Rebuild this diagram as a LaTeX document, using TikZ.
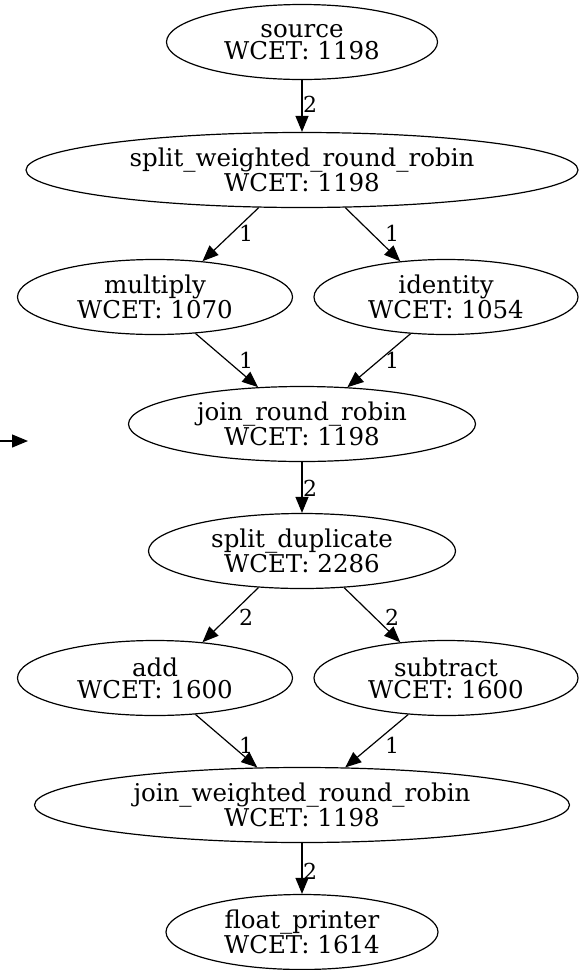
\documentclass[tikz,border=0pt]{standalone}
\usepackage{fontspec}
\setmainfont{DejaVu Serif}
\usetikzlibrary{arrows.meta,shapes.geometric}
\begin{document}
\begin{tikzpicture}[x=1pt,y=-1pt,
  task/.style={draw, ellipse, line width=1.2pt, inner sep=0pt, align=center,
    font=\fontsize{24.5}{22}\selectfont},
  flow/.style={-{Triangle[length=16pt,width=13pt]}, line width=1.2pt},
  lab/.style={font=\fontsize{22}{22}\selectfont, inner sep=0pt, anchor=center}
]
\useasboundingbox (0,0) rectangle (579,970);
\node[task, minimum width=271pt, minimum height=75pt] (src) at (302,42) {source\\WCET: 1198};
\node[task, minimum width=552pt, minimum height=75pt] (swrr) at (302,170) {split\_weighted\_round\_robin\\WCET: 1198};
\node[task, minimum width=275pt, minimum height=75pt] (mul) at (155,297) {multiply\\WCET: 1070};
\node[task, minimum width=264pt, minimum height=75pt] (idt) at (446,297) {identity\\WCET: 1054};
\node[task, minimum width=347pt, minimum height=75pt] (jrr) at (302,424) {join\_round\_robin\\WCET: 1198};
\node[task, minimum width=307pt, minimum height=75pt] (sd) at (302,551) {split\_duplicate\\WCET: 2286};
\node[task, minimum width=275pt, minimum height=75pt] (add) at (155,678) {add\\WCET: 1600};
\node[task, minimum width=264pt, minimum height=75pt] (sub) at (446,678) {subtract\\WCET: 1600};
\node[task, minimum width=535pt, minimum height=75pt] (jwrr) at (302,805) {join\_weighted\_round\_robin\\WCET: 1198};
\node[task, minimum width=272pt, minimum height=75pt] (fp) at (302,932) {float\_printer\\WCET: 1614};

\coordinate (sa) at (0,441);
\coordinate (sb) at (28,441);
\draw[flow] (sa) -- (sb);

\draw[flow] (src) -- (swrr);
\node[lab] (l1) at (310,104) {2};
\draw[flow] (swrr.221) -- (mul.37);
\node[lab] (l2) at (246,233) {1};
\draw[flow] (swrr.319) -- (idt.142);
\node[lab] (l3) at (392,233) {1};
\draw[flow] (mul.318) -- (jrr.140);
\node[lab] (l4) at (246,360) {1};
\draw[flow] (idt.226) -- (jrr.39);
\node[lab] (l5) at (392,360) {1};
\draw[flow] (jrr) -- (sd);
\node[lab] (l6) at (310,488) {2};
\draw[flow] (sd.220) -- (add.37);
\node[lab] (l7) at (246,617) {2};
\draw[flow] (sd.319) -- (sub.142);
\node[lab] (l8) at (392,617) {2};
\draw[flow] (add.318) -- (jwrr.140);
\node[lab] (l9) at (246,745) {1};
\draw[flow] (sub.224) -- (jwrr.41);
\node[lab] (l10) at (392,745) {1};
\draw[flow] (jwrr) -- (fp);
\node[lab] (l11) at (310,871) {2};
\end{tikzpicture}
\end{document}
